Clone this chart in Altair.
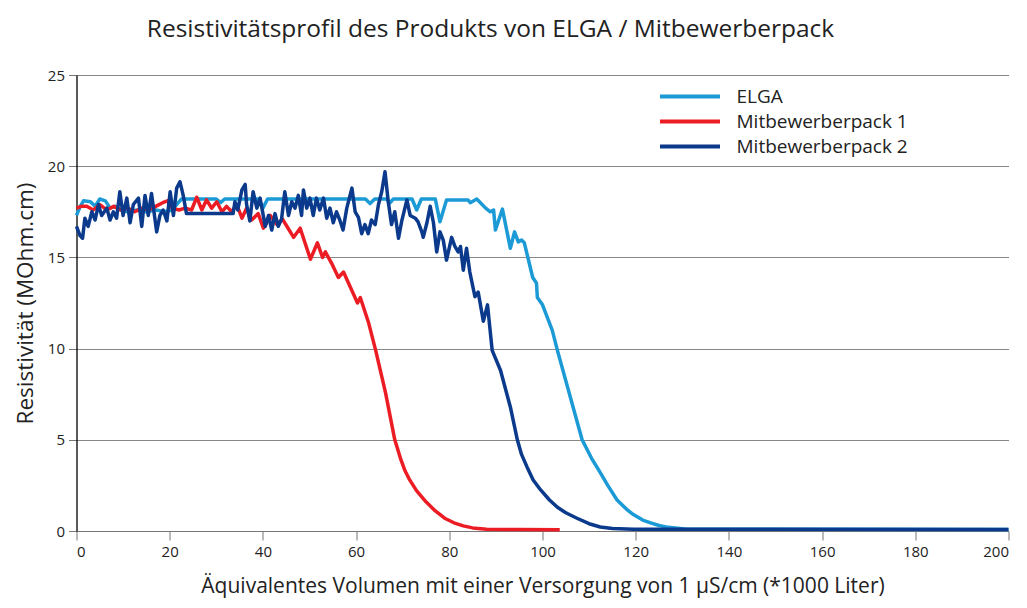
import altair as alt
import pandas as pd

# ---- data ----
series_names = ["ELGA", "Mitbewerberpack 1", "Mitbewerberpack 2"]
series_colors = ["#1b9ad6", "#ec1c24", "#0b3a8c"]

elga_x = [0, 0.8, 1.5, 3.0, 4.0, 5.0, 6.2, 7.2, 8.3, 9.5, 11, 13, 15, 17, 19, 20.5, 22.5, 30,
          30.9, 31.8, 39, 40, 41, 62, 63, 64, 66.5, 67.3, 68, 72, 73, 74, 77, 78, 79.4, 84,
          84.5, 85.9, 87.8, 88.8, 89.5, 89.9, 91.4, 93.1, 94.0, 94.8, 95.5, 96.1, 97.9, 98.7,
          98.9, 100, 102.1, 103.2, 105.8, 108.5, 110.5, 112.4, 114, 116, 118, 119.5, 121.5,
          123.2, 125, 127, 131, 200]
elga_y = [17.3, 17.8, 18.1, 18.05, 17.8, 18.2, 18.1, 17.7, 17.8, 17.6, 17.5, 17.6, 17.5, 17.6,
          17.5, 17.6, 18.2, 18.2, 18.0, 18.2, 18.2, 17.7, 18.2, 18.2, 17.95, 18.2, 18.2, 18.0,
          18.2, 18.2, 17.6, 18.2, 18.2, 16.95, 18.15, 18.15, 18.0, 18.2, 17.7, 17.5, 17.6, 16.5,
          17.65, 15.5, 16.4, 15.85, 15.95, 15.8, 13.9, 13.6, 12.8, 12.4, 11.0, 9.9, 7.5, 5.0,
          4.0, 3.2, 2.5, 1.7, 1.2, 0.9, 0.6, 0.45, 0.3, 0.2, 0.1, 0.08]

mb1_x = [0, 1, 2.2, 3.6, 5.0, 6.5, 8, 9.5, 11, 12.5, 14, 15.5, 17, 18.5, 19.5, 20.5, 22, 23.3,
         24.7, 25.8, 26.9, 27.9, 29.0, 30.1, 31.2, 32.2, 33.3, 34.4, 35.5, 36.5, 37.6, 39.0,
         40.1, 40.8, 41.6, 43.0, 44.2, 45.4, 46.6, 48, 50.2, 51.7, 52.8, 53.4, 54.9, 56.2, 57.3,
         60.3, 60.9, 62.7, 64.2, 66.3, 68.3, 69.5, 70.5, 71.5, 73, 75, 77, 79, 81, 83, 85, 88,
         95, 103.7]
mb1_y = [17.7, 17.8, 17.8, 17.6, 17.9, 17.6, 17.8, 17.6, 17.7, 17.5, 17.7, 17.6, 17.8, 18.0,
         18.1, 17.7, 17.6, 17.7, 17.6, 18.3, 17.6, 18.15, 17.7, 18.05, 17.5, 17.8, 17.5, 17.9,
         17.15, 17.7, 17.05, 17.4, 16.6, 16.9, 17.3, 16.8, 17.1, 16.6, 16.1, 16.6, 14.9, 15.8,
         15.0, 15.3, 14.6, 13.9, 14.2, 12.5, 12.8, 11.4, 9.9, 7.6, 5.0, 4.0, 3.3, 2.8, 2.2, 1.6,
         1.1, 0.7, 0.45, 0.28, 0.17, 0.1, 0.08, 0.07]

mb2_x = [0, 0.75, 1.3, 1.8, 2.5, 3.3, 4.0, 4.7, 5.4, 6.5, 7.2, 7.9, 8.6, 9.3, 10.0, 10.8, 11.5,
         12.2, 13.3, 14.0, 14.7, 15.4, 16.1, 17.2, 17.9, 18.6, 19.4, 20.1, 20.8, 21.5, 22.2,
         22.9, 23.6, 33.6, 34.0, 34.6, 35.5, 36.2, 36.5, 37.2, 37.9, 38.7, 39.4, 40.5, 41.2,
         41.9, 42.6, 43.3, 44.0, 44.7, 45.5, 46.2, 46.9, 47.6, 48.3, 48.7, 49.4, 50.1, 50.8,
         51.5, 52.2, 53.0, 53.7, 54.4, 55.1, 55.8, 56.5, 57.2, 58.0, 59.1, 59.8, 60.5, 61.2,
         61.9, 62.6, 63.3, 64.1, 64.8, 65.5, 66.2, 66.9, 67.6, 68.3, 69.1, 69.8, 70.9, 71.6,
         72.7, 73.3, 74.1, 74.4, 75.2, 75.9, 76.6, 77.3, 78.0, 78.7, 79.4, 80.5, 81.2, 81.9,
         82.4, 83.0, 83.7, 84.4, 85.5, 86.2, 87.3, 88.2, 89.2, 91, 93.1, 94.6, 95.5, 96.7, 98,
         99.6, 101.5, 103.2, 105, 107.4, 110, 112.4, 115, 119.5, 200]
mb2_y = [16.7, 16.2, 16.05, 17.15, 16.7, 17.5, 17.05, 17.9, 17.3, 17.7, 17.05, 17.5, 17.15,
         18.6, 17.3, 18.25, 16.9, 17.9, 18.25, 16.7, 18.4, 17.3, 18.5, 16.4, 17.3, 17.6, 17.0,
         18.6, 17.3, 18.8, 19.15, 18.4, 17.4, 17.4, 18.05, 17.6, 18.7, 19.0, 17.9, 17.0, 18.6,
         17.7, 18.25, 16.7, 17.3, 16.5, 17.4, 16.7, 17.1, 18.6, 17.3, 18.05, 17.7, 18.4, 17.3,
         18.7, 17.7, 18.25, 17.3, 18.25, 17.6, 18.25, 17.15, 17.7, 16.9, 17.5, 17.05, 16.5,
         17.7, 18.8, 17.5, 17.2, 16.3, 16.8, 16.3, 17.05, 16.8, 17.9, 18.6, 19.7, 18.05, 16.8,
         17.5, 16.05, 17.0, 18.15, 17.3, 17.15, 16.95, 16.4, 16.1, 16.9, 17.8, 16.9, 15.3,
         16.4, 15.95, 14.85, 16.1, 15.6, 15.3, 15.6, 14.3, 15.5, 14.2, 12.85, 13.1, 11.5, 12.4,
         9.9, 8.8, 6.8, 5.0, 4.2, 3.5, 2.8, 2.25, 1.7, 1.3, 1.0, 0.7, 0.4, 0.22, 0.14, 0.1,
         0.08]

x_ticks = [0, 20, 40, 60, 80, 100, 120, 140, 160, 180, 200]
y_ticks = [0, 5, 10, 15, 20, 25]

title_text = "Resistivitätsprofil des Produkts von ELGA / Mitbewerberpack"
x_title = "Äquivalentes Volumen mit einer Versorgung von 1 µS/cm (*1000 Liter)"
y_title = "Resistivität (MOhm.cm)"

FONT = "Open Sans"

frames = []
for name, xs, ys in [(series_names[0], elga_x, elga_y),
                     (series_names[1], mb1_x, mb1_y),
                     (series_names[2], mb2_x, mb2_y)]:
    frames.append(pd.DataFrame({"x": xs, "y": ys, "serie": name, "order": range(len(xs))}))
df = pd.concat(frames, ignore_index=True)

color_scale = alt.Scale(domain=series_names, range=series_colors)

x_enc = alt.X("x:Q", scale=alt.Scale(domain=[0, 200], nice=False),
              axis=alt.Axis(values=x_ticks, title=x_title, grid=False, tickSize=9,
                            tickColor="#777777", domainColor="#777777", labelFontSize=15,
                            labelPadding=4, titlePadding=16, titleFontSize=21,
                            titleFontWeight="normal", labelFont=FONT, titleFont=FONT,
                            labelColor="#222222", titleColor="#222222"))
y_enc = alt.Y("y:Q", scale=alt.Scale(domain=[0, 25], nice=False),
              axis=alt.Axis(values=y_ticks, title=y_title, grid=True, gridColor="#888888",
                            gridWidth=1.2, tickSize=8, tickColor="#777777",
                            domainColor="#000000", domainWidth=1.3, labelFontSize=15,
                            labelPadding=4, titlePadding=10, titleFontSize=22.5,
                            titleFontWeight="normal", labelFont=FONT, titleFont=FONT,
                            labelColor="#222222", titleColor="#222222"))

legend = alt.Legend(title=None, orient="none", legendX=579, legendY=12,
                    symbolType="M-6,0H6", symbolSize=100, symbolStrokeWidth=4,
                    labelFontSize=19, labelFont=FONT, labelColor="#222222",
                    labelLimit=400, rowPadding=5, labelOffset=37, symbolOffset=25)

layers = []
for i, name in enumerate(series_names):
    layers.append(
        alt.Chart(df).transform_filter(alt.datum.serie == name)
        .mark_line(strokeWidth=3.5, strokeJoin="round", interpolate="linear")
        .encode(x=x_enc, y=y_enc, order="order:Q",
                color=alt.Color("serie:N", scale=color_scale,
                                legend=legend if i == 0 else None))
    )

chart = alt.layer(*layers).properties(
    width=932, height=456,
    title=alt.TitleParams(title_text, fontSize=24.5, font=FONT, fontWeight="normal",
                          color="#222222", anchor="middle", dx=-52, offset=26),
    autosize=alt.AutoSizeParams(type="none"),
    padding={"left": 68.5, "top": 67, "right": 10.5, "bottom": 69},
).configure_view(stroke=None)

chart.save("out.html", embed_options={"renderer": "svg", "actions": False})
